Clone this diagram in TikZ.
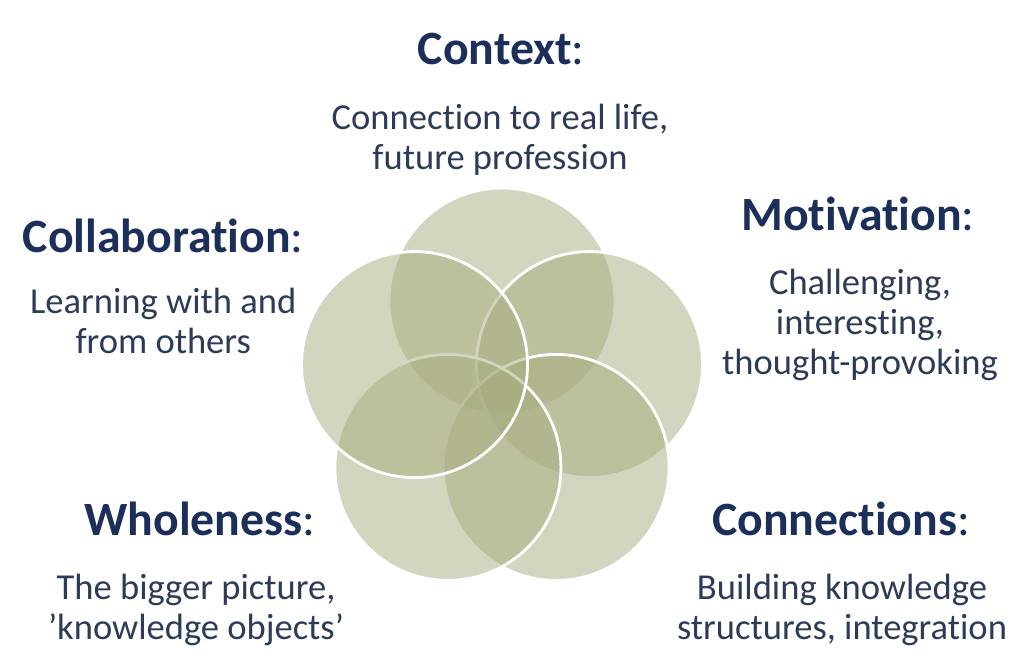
\documentclass[tikz,border=0pt]{standalone}
\usepackage{fontspec}
\setmainfont{Carlito}[RawFeature={-liga}]
\definecolor{headblue}{HTML}{1C2F5A}
\definecolor{bodyblue}{HTML}{2D3B58}
\definecolor{khaki}{HTML}{A7AB7D}

\begin{document}
\begin{tikzpicture}[
head/.style={anchor=base, inner sep=0pt, text=headblue, font=\fontsize{34}{37}\selectfont},
body/.style={anchor=north, inner sep=0pt, align=center, text=bodyblue, font=\fontsize{26}{28.4}\selectfont},
venn/.style={fill=khaki, fill opacity=0.5, draw=white, line width=2pt}]

\useasboundingbox (0,0) rectangle (25.6,-16.625) ;

\begin{scope}[xshift=12.55 cm, yshift=-9.825 cm]
% five circles, clockwise from the top
\draw[venn] (90:2.3) circle (2.825) ;
\draw[venn] (18:2.3) circle (2.825) ;
\draw[venn] (-54:2.3) circle (2.825) ;
\draw[venn] (234:2.3) circle (2.825) ;
\draw[venn] (162:2.3) circle (2.825) ;
\end{scope}

% labels
\node[head] (context) at (12.53,-1.62) {\textbf{Context}:} ;
\node[body] (contextb) at (12.5,-2.6) {Connection to real life,\\future profession} ;

\node[head] (motiv) at (21.45,-5.75) {\textbf{Motivation}:} ;
\node[body] (motivb) at (21.5,-6.725) {Challenging,\\interesting,\\thought-provoking} ;

\node[head] (collab) at (4.08,-6.3) {\textbf{Collaboration}:} ;
\node[body] (collabb) at (4.08,-7.2) {Learning with and\\from others} ;

\node[head] (whole) at (5.0,-13.38) {\textbf{Wholeness}:} ;
\node[body] (wholeb) at (4.9,-14.35) {The bigger picture,\\’knowledge objects’} ;

\node[head] (connect) at (21.03,-13.38) {\textbf{Connections}:} ;
\node[body] (connectb) at (21.05,-14.35) {Building knowledge\\structures, integration} ;

\end{tikzpicture}
\end{document}
